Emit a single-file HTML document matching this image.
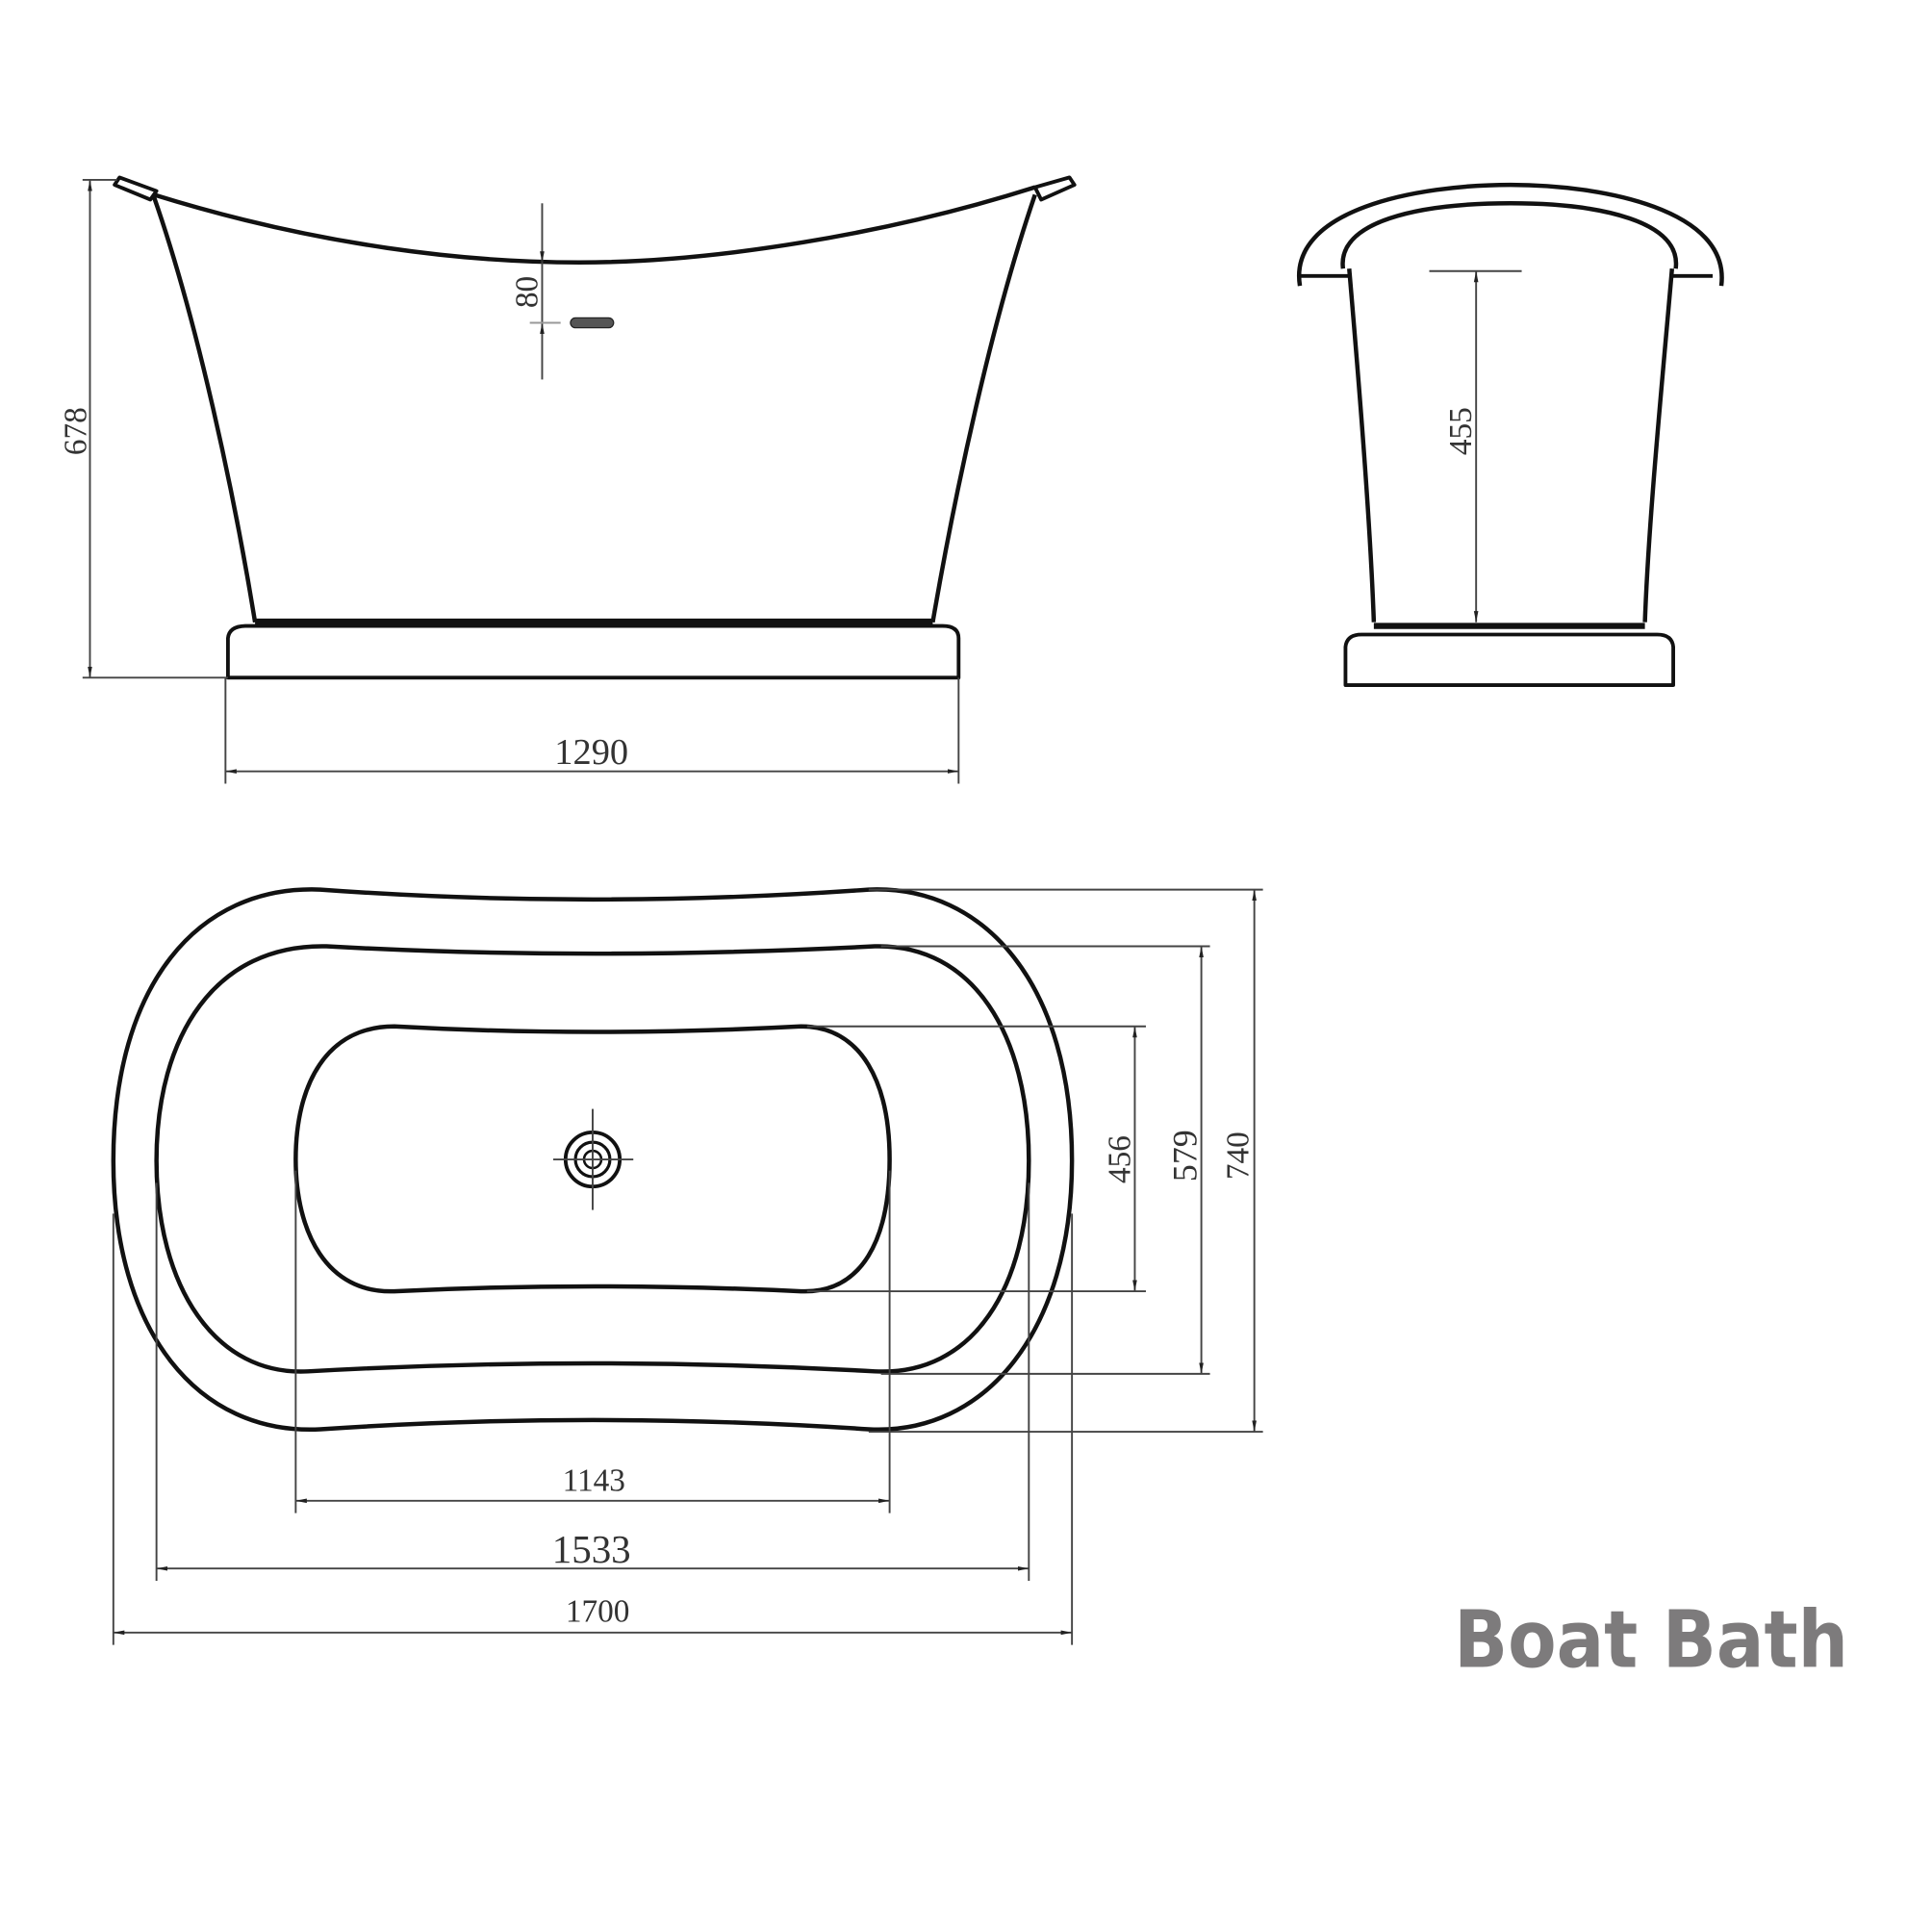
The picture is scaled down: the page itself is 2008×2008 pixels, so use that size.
<!DOCTYPE html>
<html><head><meta charset="utf-8"><style>html,body{margin:0;padding:0;background:#fff}svg{display:block}</style></head>
<body>
<svg width="2008" height="2008" viewBox="0 0 1568 1568" xmlns="http://www.w3.org/2000/svg">
<defs>
<marker id="a" viewBox="0 0 10 10" refX="10" refY="5" markerWidth="6" markerHeight="6" orient="auto-start-reverse"><path d="M0,3 L10,5 L0,7z" fill="#222"/></marker>
</defs>
<rect width="1568" height="1568" fill="#fff"/>
<g fill="none" stroke="#111" stroke-width="3.5" stroke-linejoin="round">
<!-- side view -->
<path d="M125,158 C260,200 380,213 470,213 C580,213 720,190 840,152"/>
<path d="M93,150 L97,144 L127,155 L122,162 Z" stroke-width="3"/>
<path d="M840,152 L868,144 L872,150 L845,162 Z" stroke-width="3"/>
<path d="M125,160 C160,260 190,400 207,505"/>
<path d="M840,158 C805,260 775,400 757,505"/>
<path d="M185,550 L185,518 Q186,508 200,508 L765,508 Q778,508 778,518 L778,550 Z" stroke-width="3"/>
<line x1="207" y1="505" x2="757" y2="505" stroke-width="6"/>
<!-- end view -->
<path d="M1055,232 C1045,170 1150,150 1226,150 C1300,150 1405,170 1397,232"/>
<path d="M1090,218 C1085,180 1150,165 1226,165 C1300,165 1365,180 1360,218"/>
<line x1="1055" y1="224" x2="1096" y2="224" stroke-width="3"/>
<line x1="1357" y1="224" x2="1390" y2="224" stroke-width="3"/>
<path d="M1095,218 C1102,300 1112,420 1115,505"/>
<path d="M1357,218 C1350,300 1338,420 1335,505"/>
<path d="M1092,556 L1092,525 Q1093,515 1105,515 L1345,515 Q1357,515 1358,525 L1358,556 Z" stroke-width="3"/>
<line x1="1115" y1="508" x2="1335" y2="508" stroke-width="5"/>
<!-- plan view -->
<path d="M260,722 Q480,738 705,722 C800,718 870,800 870,942 C870,1080 800,1165 705,1160 Q480,1145 260,1160 C160,1165 92,1080 92,942 C92,800 160,718 260,722Z"/>
<path d="M265,768 Q480,780 710,768 C790,766 835,840 835,942 C835,1045 790,1117 710,1113 Q480,1100 250,1113 C175,1117 127,1045 127,942 C127,840 175,766 265,768Z"/>
<path d="M320,833 Q480,842 650,833 C700,833 722,880 722,941 C722,1005 700,1050 650,1048 Q480,1040 320,1048 C265,1050 240,1000 240,941 C240,880 265,833 320,833Z"/>
<circle cx="481" cy="941" r="22" stroke-width="3"/>
<circle cx="481" cy="941" r="14" stroke-width="2.5"/>
<circle cx="481" cy="941" r="7" stroke-width="2"/>
</g>
<g fill="none" stroke="#444" stroke-width="1.5">
<line x1="481" y1="900" x2="481" y2="982"/><line x1="449" y1="941" x2="514" y2="941"/>
<line x1="73" y1="146" x2="73" y2="550" marker-start="url(#a)" marker-end="url(#a)"/>
<line x1="67" y1="550" x2="185" y2="550"/><line x1="67" y1="146" x2="95" y2="146"/>
<line x1="183" y1="626" x2="778" y2="626" marker-start="url(#a)" marker-end="url(#a)"/>
<line x1="183" y1="550" x2="183" y2="636"/><line x1="778" y1="550" x2="778" y2="636"/>
<line x1="440" y1="165" x2="440" y2="213" marker-end="url(#a)"/>
<line x1="440" y1="308" x2="440" y2="262" marker-end="url(#a)"/>
<line x1="440" y1="213" x2="440" y2="262"/>
<line x1="430" y1="262" x2="455" y2="262" stroke="#999"/>
<line x1="1198" y1="220" x2="1198" y2="505" marker-start="url(#a)" marker-end="url(#a)"/>
<line x1="1160" y1="220" x2="1235" y2="220"/>
<line x1="1018" y1="722" x2="1018" y2="1162" marker-start="url(#a)" marker-end="url(#a)"/>
<line x1="705" y1="722" x2="1025" y2="722"/><line x1="705" y1="1162" x2="1025" y2="1162"/>
<line x1="975" y1="768" x2="975" y2="1115" marker-start="url(#a)" marker-end="url(#a)"/>
<line x1="715" y1="768" x2="982" y2="768"/><line x1="715" y1="1115" x2="982" y2="1115"/>
<line x1="921" y1="833" x2="921" y2="1048" marker-start="url(#a)" marker-end="url(#a)"/>
<line x1="655" y1="833" x2="930" y2="833"/><line x1="655" y1="1048" x2="930" y2="1048"/>
<line x1="240" y1="1218" x2="722" y2="1218" marker-start="url(#a)" marker-end="url(#a)"/>
<line x1="240" y1="950" x2="240" y2="1228"/><line x1="722" y1="950" x2="722" y2="1228"/>
<line x1="127" y1="1273" x2="835" y2="1273" marker-start="url(#a)" marker-end="url(#a)"/>
<line x1="127" y1="960" x2="127" y2="1283"/><line x1="835" y1="960" x2="835" y2="1283"/>
<line x1="92" y1="1325" x2="870" y2="1325" marker-start="url(#a)" marker-end="url(#a)"/>
<line x1="92" y1="985" x2="92" y2="1335"/><line x1="870" y1="985" x2="870" y2="1335"/>
</g>
<rect x="463" y="258" width="35" height="8" rx="4" fill="#555" stroke="#222" stroke-width="1"/>
<g font-family="'Liberation Serif',serif" font-size="26" fill="#333" text-anchor="middle">
<text transform="translate(70,350) rotate(-90)">678</text>
<text x="480" y="620" font-size="30">1290</text>
<text transform="translate(436,237) rotate(-90)">80</text>
<text transform="translate(1194,350) rotate(-90)">455</text>
<text transform="translate(917,941) rotate(-90)">456</text>
<text transform="translate(971,938) rotate(-90)" font-size="28">579</text>
<text transform="translate(1013,938) rotate(-90)">740</text>
<text x="482" y="1210">1143</text>
<text x="480" y="1268" font-size="32">1533</text>
<text x="485" y="1316">1700</text>
</g>
<text x="1180" y="1353" font-family="'DejaVu Sans','Liberation Sans',sans-serif" font-size="64" font-weight="bold" fill="#7d7b7c" textLength="320" lengthAdjust="spacingAndGlyphs">Boat Bath</text>
</svg>
</body></html>
